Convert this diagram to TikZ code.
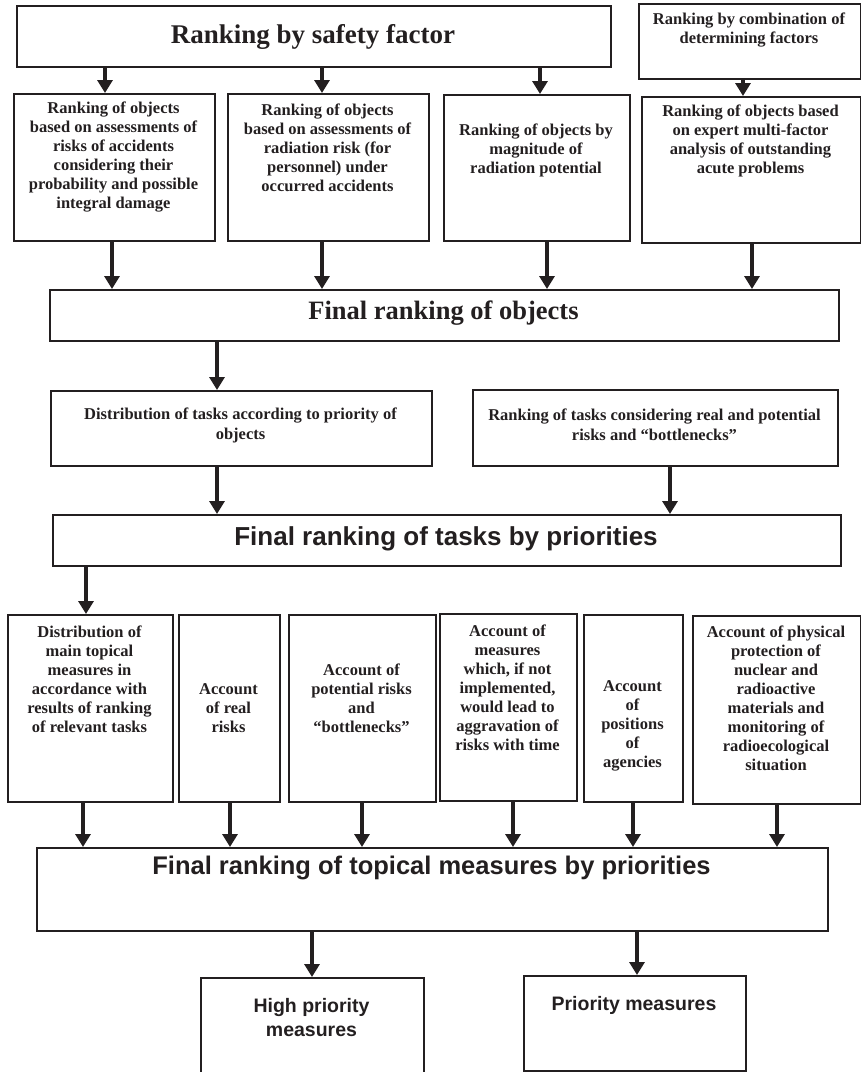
\documentclass[tikz,border=0pt]{standalone}
\usepackage{fontspec}
\setmainfont{Liberation Serif}
\setsansfont{Liberation Sans}
\usetikzlibrary{arrows.meta}
\definecolor{ink}{HTML}{231F20}
\tikzset{
  box/.style={draw=ink, line width=2.2pt, inner sep=0pt, anchor=north west},
  stxt/.style={text=ink, align=center, inner sep=0pt,
    font=\fontsize{16.5}{19}\selectfont\bfseries},
  dtxt/.style={stxt, font=\fontsize{16.5}{20}\selectfont\bfseries},
  bigserif/.style={text=ink, inner sep=0pt, font=\fontsize{27}{30}\selectfont\bfseries},
  bigsans/.style={text=ink, inner sep=0pt, font=\fontsize{25.5}{30}\selectfont\sffamily\bfseries},
  smallsans/.style={text=ink, align=center, inner sep=0pt,
    font=\fontsize{19.5}{24}\selectfont\sffamily\bfseries},
  arr/.style={draw=ink, line width=3.2pt, -{Triangle[width=15pt,length=13pt]}}
}
% box from top-left (x1,y1) to bottom-right (x2,y2), pixel-like units
\newcommand\mkbox[5]{\node[box, minimum width={(#4-#2)*1pt},
  minimum height={(#5-#3)*1pt}] (#1) at (#2,#3) {};}
\begin{document}
\begin{tikzpicture}[x=1pt, y=-1pt]
\useasboundingbox (0,0) rectangle (861,1072);

% ---- level 1 ----
\mkbox{top}{16}{5}{610}{66}
\node[bigserif] (topt) at (313,37) {Ranking by safety factor};
\mkbox{comb}{638}{3}{860}{78}
\node[stxt] (combt) at (749,30) {Ranking by combination of\\determining factors};

% ---- level 2 ----
\mkbox{ra}{13}{93}{214}{240}
\node[stxt] (rat) at (113.5,157) {Ranking of objects\\based on assessments of\\risks of accidents\\considering their\\probability and possible\\integral damage};
\mkbox{rb}{227}{93}{428}{240}
\node[stxt] (rbt) at (327.5,148) {Ranking of objects\\based on assessments of\\radiation risk (for\\personnel) under\\occurred accidents};
\mkbox{rc}{443}{94}{629}{240}
\node[stxt] (rct) at (536,150) {Ranking of objects by\\magnitude of\\radiation potential};
\mkbox{rd}{641}{96}{860}{242}
\node[stxt] (rdt) at (750.5,141) {Ranking of objects based\\on expert multi-factor\\analysis of outstanding\\acute problems};

% ---- level 3 ----
\mkbox{fo}{49}{289}{838}{340}
\node[bigserif, font=\fontsize{26.5}{30}\selectfont\bfseries] (fot) at (443.5,313) {Final ranking of objects};

% ---- level 4 ----
\mkbox{dt}{50}{390}{431}{465}
\node[dtxt] (dtt) at (240.5,425) {Distribution of tasks according to priority of\\objects};
\mkbox{rt}{472}{389}{837}{465}
\node[dtxt] (rtt) at (654.5,425) {Ranking of tasks considering real and potential\\risks and “bottlenecks”};

% ---- level 5 ----
\mkbox{ft}{52}{514}{840}{565}
\node[bigsans, font=\fontsize{26}{30}\selectfont\sffamily\bfseries] (ftt) at (446,539) {Final ranking of tasks by priorities};

% ---- level 6 ----
\mkbox{ma}{7}{614}{172}{801}
\node[stxt] (mat) at (89.5,679) {Distribution of\\main topical\\measures in\\accordance with\\results of ranking\\of relevant tasks};
\mkbox{mb}{178}{614}{279}{801}
\node[stxt] (mbt) at (228.5,708) {Account\\of real\\risks};
\mkbox{mc}{288}{614}{435}{801}
\node[stxt] (mct) at (361.5,698) {Account of\\potential risks\\and\\“bottlenecks”};
\mkbox{md}{439}{613}{576}{800}
\node[stxt] (mdt) at (507.5,688) {Account of\\measures\\which, if not\\implemented,\\would lead to\\aggravation of\\risks with time};
\mkbox{me}{583}{614}{682}{801}
\node[stxt] (met) at (632.5,726) {Account\\of\\positions\\of\\agencies};
\mkbox{mf}{692}{615}{860}{803}
\node[stxt] (mft) at (776,698.5) {Account of physical\\protection of\\nuclear and\\radioactive\\materials and\\monitoring of\\radioecological\\situation};

% ---- level 7 ----
\mkbox{fm}{36}{847}{827}{930}
\node[bigsans] (fmt) at (431.5,868) {Final ranking of topical measures by priorities};

% ---- level 8 ----
\mkbox{hp}{200}{977}{423}{1082}
\node[smallsans] (hpt) at (311.5,1018) {High priority\\measures};
\mkbox{pm}{523}{975}{745}{1070}
\node[smallsans] (pmt) at (634,1005) {Priority measures};

% ---- arrow columns ----
\coordinate (x1) at (105,0);
\coordinate (x2) at (322,0);
\coordinate (x3) at (540,0);
\coordinate (x4) at (743,0);
\coordinate (y1) at (112,0);
\coordinate (y2) at (322,0);
\coordinate (y3) at (547,0);
\coordinate (y4) at (752,0);
\coordinate (z1) at (217,0);
\coordinate (z2) at (670,0);
\coordinate (w0) at (86,0);
\coordinate (w1) at (83,0);
\coordinate (w2) at (230,0);
\coordinate (w3) at (362,0);
\coordinate (w4) at (513,0);
\coordinate (w5) at (633,0);
\coordinate (w6) at (777,0);
\coordinate (v1) at (312,0);
\coordinate (v2) at (637,0);

% ---- connectors ----
\draw[arr] (x1 |- top.south) -- (x1 |- ra.north);
\draw[arr] (x2 |- top.south) -- (x2 |- rb.north);
\draw[arr] (x3 |- top.south) -- (x3 |- rc.north);
\draw[arr] (x4 |- comb.south) -- (x4 |- rd.north);

\draw[arr] (y1 |- ra.south) -- (y1 |- fo.north);
\draw[arr] (y2 |- rb.south) -- (y2 |- fo.north);
\draw[arr] (y3 |- rc.south) -- (y3 |- fo.north);
\draw[arr] (y4 |- rd.south) -- (y4 |- fo.north);

\draw[arr] (z1 |- fo.south) -- (z1 |- dt.north);
\draw[arr] (z1 |- dt.south) -- (z1 |- ft.north);
\draw[arr] (z2 |- rt.south) -- (z2 |- ft.north);

\draw[arr] (w0 |- ft.south) -- (w0 |- ma.north);

\draw[arr] (w1 |- ma.south) -- (w1 |- fm.north);
\draw[arr] (w2 |- mb.south) -- (w2 |- fm.north);
\draw[arr] (w3 |- mc.south) -- (w3 |- fm.north);
\draw[arr] (w4 |- md.south) -- (w4 |- fm.north);
\draw[arr] (w5 |- me.south) -- (w5 |- fm.north);
\draw[arr] (w6 |- mf.south) -- (w6 |- fm.north);

\draw[arr] (v1 |- fm.south) -- (v1 |- hp.north);
\draw[arr] (v2 |- fm.south) -- (v2 |- pm.north);
\end{tikzpicture}
\end{document}
